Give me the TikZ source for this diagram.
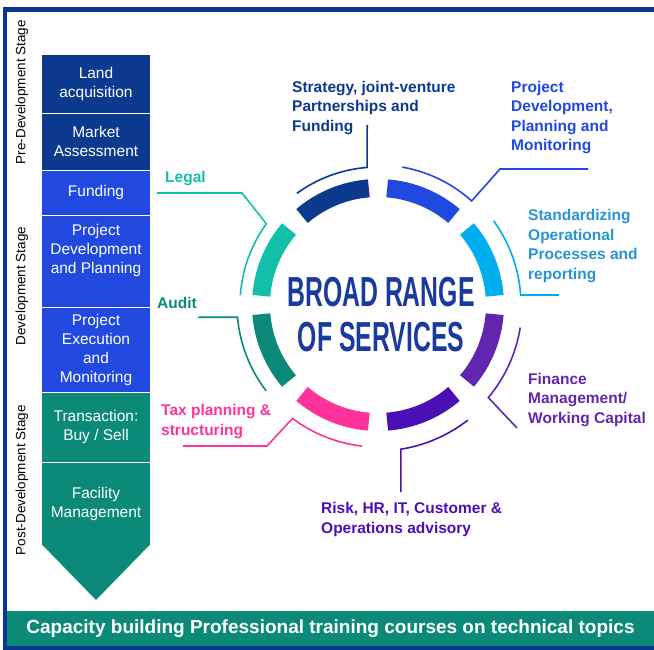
\documentclass[tikz,border=0pt]{standalone}
\usepackage{fontspec}
\setmainfont{Liberation Sans}
\newfontfamily\ringfont[FakeStretch=0.59]{Liberation Sans}
\usetikzlibrary{positioning}

\definecolor{framec}{HTML}{0A3591}
\definecolor{navyc}{HTML}{0B3A8E}
\definecolor{bluec}{HTML}{2149E0}
\definecolor{cyanc}{HTML}{00AEEF}
\definecolor{cyant}{HTML}{2A93D5}
\definecolor{legalc}{HTML}{12C0AA}
\definecolor{auditc}{HTML}{0C8A78}
\definecolor{pinkc}{HTML}{FF3399}
\definecolor{indigoc}{HTML}{4B10B5}
\definecolor{purplec}{HTML}{6125AE}
\definecolor{titlec}{HTML}{1B3AA0}

\begin{document}
\begin{tikzpicture}[x=1pt, y=-1pt,
    stagebox/.style={minimum width=108pt, inner sep=0pt, outer sep=0pt, text=white, align=center, font=\fontsize{15.5}{19}\selectfont},
    prebox/.style={stagebox, fill=navyc},
    devbox/.style={stagebox, fill=bluec},
    postbox/.style={stagebox, fill=auditc},
    stagetag/.style={rotate=90, inner sep=0pt, font=\fontsize{13.5}{16}\selectfont},
    service/.style={anchor=north west, inner sep=0pt, align=left, font=\bfseries\fontsize{15.5}{19.5}\selectfont},
    seg/.style={line width=18pt},
    lead/.style={line width=1.6pt}]

  \useasboundingbox (0,0) rectangle (654,650);

  % stages on the left
  \node[prebox, minimum height=58pt] (land) at (96,84) {Land\\acquisition};
  \node[prebox, minimum height=57pt, below=0pt of land] (market) {Market\\Assessment};
  \node[devbox, minimum height=45pt, below=0pt of market] (funding) {Funding};
  \node[devbox, minimum height=92pt, below=0pt of funding] (pdp) {Project\\Development\\and Planning\\\strut};
  \node[devbox, minimum height=85pt, below=0pt of pdp] (pem) {Project\\Execution\\and\\Monitoring};
  \node[postbox, minimum height=70pt, below=0pt of pem] (trans) {Transaction:\\Buy / Sell};
  \node[postbox, minimum height=83pt, below=0pt of trans] (fac) {Facility\\Management};
  \coordinate (tip) at (96,600);
  \fill[auditc] ([yshift=0.5pt]fac.south west) -- ([yshift=0.5pt]fac.south east) -- (tip) -- cycle;
  \foreach \n in {land,market,funding,pdp,pem,trans}
    \draw[white, line width=0.8pt] (\n.south west) -- (\n.south east);

  \node[stagetag] (pre) at (22,92) {Pre-Development Stage};
  \node[stagetag] (dev) at (22,286) {Development Stage};
  \node[stagetag] (post) at (22,480) {Post-Development Stage};

  % ring of services
  \coordinate (ctr) at (378,305);
  \foreach \a/\c in {0/cyanc,45/bluec,90/navyc,135/legalc,180/auditc,225/pinkc,270/indigoc,315/purplec}
    \draw[seg, \c] (ctr) ++(-\a-4.5:117) arc[start angle=-\a-4.5, end angle=-\a-40.5, radius=117];
  \node[text=titlec, align=center, inner sep=0pt, font=\ringfont\bfseries\fontsize{42}{45}\selectfont] (title) at (381,314.5) {BROAD RANGE\\OF SERVICES};

  % labels
  \node[service, text=navyc] (strat) at (292,81) {Strategy, joint-venture\\Partnerships and\\Funding};
  \node[service, text=bluec] (pdev) at (511,81) {Project\\Development,\\Planning and\\Monitoring};
  \node[service, text=cyant] (std) at (528,209.5) {Standardizing\\Operational\\Processes and\\reporting};
  \node[service, text=purplec] (fin) at (528,373) {Finance\\Management/\\Working Capital};
  \node[service, text=indigoc] (risk) at (321,502.5) {Risk, HR, IT, Customer \&\\Operations advisory};
  \node[service, text=pinkc] (tax) at (161,404.5) {Tax planning \&\\structuring};
  \node[service, text=auditc] (audit) at (157,297) {Audit};
  \node[service, text=legalc] (legal) at (165,171) {Legal};

  \coordinate (stratend) at (367.2,125);
  \coordinate (pdevbend) at (500,169);
  \coordinate (pdevend) at (588,169);
  \coordinate (stdend) at (559,295);
  \coordinate (finend) at (517,428);
  \coordinate (riskend) at (400.8,492);
  \coordinate (taxbend) at (267,446);
  \coordinate (taxend) at (183,446);
  \coordinate (auditend) at (198,317.3);
  \coordinate (legalbend) at (242,193);
  \coordinate (legalend) at (157,193);

  % leaders
  \draw[lead, navyc] (ctr) ++(-126:138) arc[start angle=-126, end angle=-94.5, radius=138] -- (stratend);
  \draw[lead, bluec] (ctr) ++(-80:140) arc[start angle=-80, end angle=-48, radius=140] -- (pdevbend) -- (pdevend);
  \draw[lead, cyanc] (ctr) ++(-36:143) arc[start angle=-36, end angle=-4, radius=143] -- (stdend);
  \draw[lead, purplec] (ctr) ++(-351:144) arc[start angle=-351, end angle=-320, radius=144] -- (finend);
  \draw[lead, indigoc] (ctr) ++(-308:146) arc[start angle=-308, end angle=-279, radius=146] -- (riskend);
  \draw[lead, pinkc] (ctr) ++(-263.5:142) arc[start angle=-263.5, end angle=-233, radius=142] -- (taxbend) -- (taxend);
  \draw[lead, auditc] (ctr) ++(-217.5:141) arc[start angle=-217.5, end angle=-185, radius=141] -- (auditend);
  \draw[lead, legalc] (ctr) ++(-176:138) arc[start angle=-176, end angle=-144, radius=138] -- (legalbend) -- (legalend);

  % training bar and frame
  \node[fill=auditc, minimum width=647pt, minimum height=35pt, inner sep=0pt, text=white, font=\bfseries\fontsize{19}{21}\selectfont] (bar) at (330.5,628.5) {Capacity building Professional training courses on technical topics};
  \draw[framec, line width=4.5pt] (5,9.5) rectangle (664,648);

\end{tikzpicture}
\end{document}
